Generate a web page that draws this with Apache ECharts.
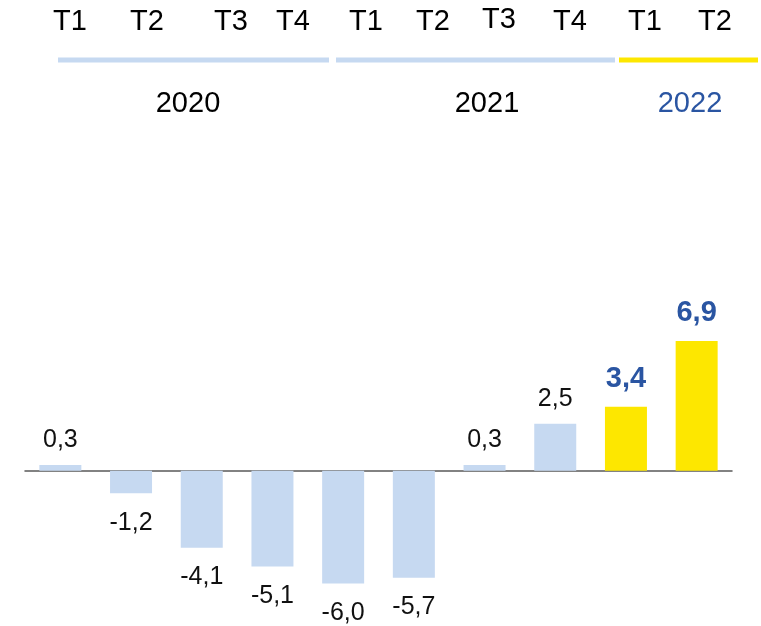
<!DOCTYPE html>
<html><head><meta charset="utf-8">
<script src="https://cdn.jsdelivr.net/npm/echarts@6/dist/echarts.min.js"></script>
<style>html,body{margin:0;padding:0;background:#fff}#c{width:761px;height:626px}</style>
</head><body><div id="c"></div>
<script>
const categories = ['2020 T1','2020 T2','2020 T3','2020 T4','2021 T1','2021 T2','2021 T3','2021 T4','2022 T1','2022 T2'];
const quarterLabels = ['T1','T2','T3','T4','T1','T2','T3','T4','T1','T2'];
const yearLabels = ['2020','2021','2022'];
const values = [0.3, -1.2, -4.1, -5.1, -6.0, -5.7, 0.3, 2.5, 3.4, 6.9];
const highlighted = [false,false,false,false,false,false,false,false,true,true];

// layout (header positions)
const quarterX = [70,147,231,293,366,433,499,570,645,715];
const quarterY = [22,22,22,22,22,22,20,22,22,22];
const yearX = [188,487,690];
const yearLineX = [[58,329],[336,615],[619,758]];

const FONT = "'Liberation Sans', Arial, sans-serif";
const BLUE = '#c6d9f1', YELLOW = '#fde700', DARKBLUE = '#2a55a2';
const fmt = v => v.toFixed(1).replace('.', ',');

const data = values.map((v, i) => {
  const hl = highlighted[i];
  return {
    value: v,
    itemStyle: { color: hl ? YELLOW : BLUE },
    label: {
      show: true,
      position: v >= 0 ? 'top' : 'bottom',
      distance: v >= 0 ? (hl ? 13 : 12) : 17,
      formatter: p => fmt(p.value),
      color: hl ? DARKBLUE : '#111',
      fontWeight: hl ? 'bold' : 'normal',
      fontSize: hl ? 29 : 25,
      fontFamily: FONT
    }
  };
});

const graphics = [];
quarterLabels.forEach((t, i) => graphics.push({
  type: 'text', x: quarterX[i], y: quarterY[i],
  style: { text: t, fill: '#000', font: '29px ' + FONT, textAlign: 'center', textVerticalAlign: 'middle' }
}));
yearLabels.forEach((t, i) => {
  graphics.push({
    type: 'text', x: yearX[i], y: 104,
    style: { text: t, fill: i === 2 ? DARKBLUE : '#000', font: '29px ' + FONT, textAlign: 'center', textVerticalAlign: 'middle' }
  });
  graphics.push({
    type: 'line', shape: { x1: yearLineX[i][0], y1: 60, x2: yearLineX[i][1], y2: 60 },
    style: { stroke: i === 2 ? YELLOW : BLUE, lineWidth: 5 }
  });
});

const chart = echarts.init(document.getElementById('c'));
chart.setOption({
  animation: false,
  grid: { left: 25, right: 29, top: 320.3, height: 300.8, containLabel: false },
  xAxis: {
    type: 'category', data: categories,
    axisLine: { show: true, onZero: true, lineStyle: { color: '#595959', width: 1.5 } },
    axisTick: { show: false }, axisLabel: { show: false }, splitLine: { show: false }
  },
  yAxis: {
    type: 'value', min: -8, max: 8, interval: 2, show: false,
    splitLine: { show: false }
  },
  series: [{ type: 'bar', data: data, barWidth: 42 }],
  graphic: graphics
});
</script></body></html>
